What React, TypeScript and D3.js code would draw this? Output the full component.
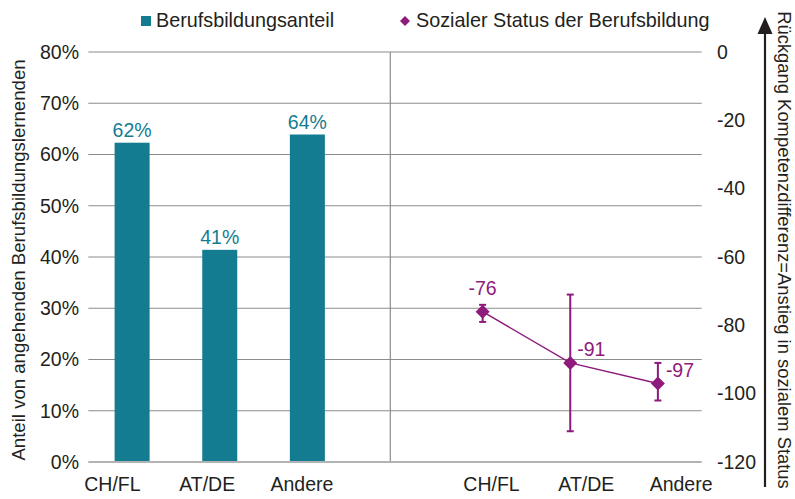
import React from 'react';
import * as d3 from 'd3';

const categories = ['CH/FL', 'AT/DE', 'Andere'];
const shareValues = [0.623, 0.414, 0.639];
const statusValues = [-76, -91, -97];
const statusHigh = [-74, -71, -91];
const statusLow = [-79, -111, -102];
const leftTicks = [0, 0.1, 0.2, 0.3, 0.4, 0.5, 0.6, 0.7, 0.8];
const rightTicks = [0, -20, -40, -60, -80, -100, -120];

const TEAL = '#147c91';
const PURPLE = '#8e1a7c';
const TEXT = '#231f20';
const FONT = '"Liberation Sans", Arial, sans-serif';

const width = 795;
const height = 499;
const plot = { left: 88.3, right: 701.7, top: 52, bottom: 462 };

export default function App() {
  // 7 slots: three bars, an empty gap, three status points
  const slots = ['b0', 'b1', 'b2', 'gap', 'p0', 'p1', 'p2'];
  const x = d3.scaleBand<string>().domain(slots).range([plot.left, plot.right]).padding(0);
  // category labels sit on a slightly wider spread than the marks
  const xLabel = d3.scaleBand<string>().domain(slots).range([65, 728.5]).padding(0);
  const yLeft = d3.scaleLinear().domain([0, 0.8]).range([plot.bottom, plot.top]);
  const yRight = d3.scaleLinear().domain([-120, 0]).range([plot.bottom, plot.top]);
  const barW = 35;

  const barX = (i: number) => (x('b' + i) || 0) + x.bandwidth() / 2;
  const ptX = (i: number) => (x('p' + i) || 0) + x.bandwidth() / 2;
  const lblX = (k: string) => (xLabel(k) || 0) + xLabel.bandwidth() / 2;

  const line = d3.line<number>()
    .x((_, i) => ptX(i))
    .y(d => yRight(d));

  const diamond = (cx: number, cy: number, r: number) =>
    `M${cx},${cy - r}L${cx + r},${cy}L${cx},${cy + r}L${cx - r},${cy}Z`;

  const pctFmt = d3.format('.0%');

  // label offsets for status values
  const statusLabelPos = [
    { dx: 0, dy: -17, anchor: 'middle' },
    { dx: 7, dy: -7, anchor: 'start' },
    { dx: 8, dy: -6, anchor: 'start' },
  ];

  return (
    <svg width={width} height={height} style={{ position: 'absolute', left: 0, top: 0, background: '#fff' }}
      fontFamily={FONT}>
      {/* legend */}
      <rect x={141} y={16} width={10} height={10} fill={TEAL} />
      <text x={156} y={27} fontSize={19.8} fill={TEXT}>Berufsbildungsanteil</text>
      <path d={diamond(405, 21, 5)} fill={PURPLE} />
      <text x={416} y={27} fontSize={19.8} fill={TEXT}>Sozialer Status der Berufsbildung</text>

      {/* gridlines */}
      {leftTicks.map(t => t === 0 ? null : (
        <line key={t} x1={plot.left} x2={plot.right} y1={yLeft(t)} y2={yLeft(t)} stroke="#8c8c8c" strokeWidth={1.2} />
      ))}
      <line x1={390.3} x2={390.3} y1={plot.top} y2={plot.bottom} stroke="#8c8c8c" strokeWidth={1.2} />

      {/* bars */}
      {shareValues.map((v, i) => (
        <g key={i}>
          <rect x={barX(i) - barW / 2} y={yLeft(v)} width={barW} height={yLeft(0) - yLeft(v)} fill={TEAL} />
          <text x={barX(i)} y={yLeft(v) - 6} textAnchor="middle" fontSize={19.5} fill={TEAL}>{pctFmt(v)}</text>
        </g>
      ))}

      <line x1={plot.left} x2={plot.right} y1={yLeft(0)} y2={yLeft(0)} stroke="#b3b3b3" strokeWidth={2} />

      {/* left axis ticks */}
      {leftTicks.map(t => (
        <text key={t} x={79} y={yLeft(t)} dy="0.35em" textAnchor="end" fontSize={19.5} fill={TEXT}>{pctFmt(t)}</text>
      ))}

      {/* right axis ticks */}
      {rightTicks.map(t => (
        <text key={t} x={717} y={yRight(t)} dy="0.35em" textAnchor="start" fontSize={19.5} fill={TEXT}>{t}</text>
      ))}

      {/* category labels */}
      {categories.map((c, i) => (
        <g key={c}>
          <text x={lblX('b' + i)} y={491} textAnchor="middle" fontSize={19.5} fill={TEXT}>{c}</text>
          <text x={lblX('p' + i)} y={491} textAnchor="middle" fontSize={19.5} fill={TEXT}>{c}</text>
        </g>
      ))}

      {/* status line, error bars, markers */}
      <path d={line(statusValues) || ''} fill="none" stroke={PURPLE} strokeWidth={1.5} />
      {statusValues.map((v, i) => (
        <g key={i}>
          <line x1={ptX(i)} x2={ptX(i)} y1={yRight(statusHigh[i])} y2={yRight(statusLow[i])} stroke={PURPLE} strokeWidth={2} />
          <line x1={ptX(i) - 3.5} x2={ptX(i) + 3.5} y1={yRight(statusHigh[i])} y2={yRight(statusHigh[i])} stroke={PURPLE} strokeWidth={2} />
          <line x1={ptX(i) - 3.5} x2={ptX(i) + 3.5} y1={yRight(statusLow[i])} y2={yRight(statusLow[i])} stroke={PURPLE} strokeWidth={2} />
          <path d={diamond(ptX(i), yRight(v), 7)} fill={PURPLE} />
          <text x={ptX(i) + statusLabelPos[i].dx} y={yRight(v) + statusLabelPos[i].dy}
            textAnchor={statusLabelPos[i].anchor as any} fontSize={19.5} fill={PURPLE}>{v}</text>
        </g>
      ))}

      {/* axis titles */}
      <text transform="translate(25,260) rotate(-90)" textAnchor="middle" fontSize={18.6} fill={TEXT}>
        Anteil von angehenden Berufsbildungslernenden
      </text>
      <text transform="translate(778,250) rotate(90)" textAnchor="middle" fontSize={18.4} fill={TEXT}>
        Rückgang Kompetenzdifferenz=Anstieg in sozialem Status
      </text>

      {/* arrow */}
      <line x1={765} x2={765} y1={487} y2={30} stroke={TEXT} strokeWidth={2.2} />
      <path d="M757.5,34L765,17L772.5,34Z" fill={TEXT} />
    </svg>
  );
}
